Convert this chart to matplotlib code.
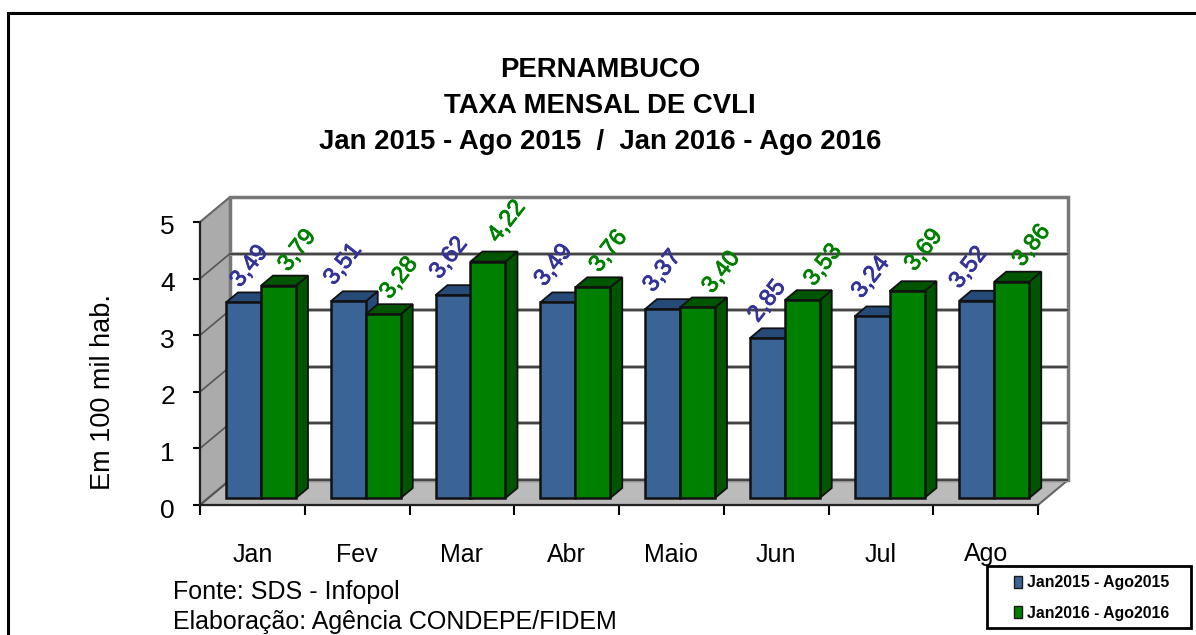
import matplotlib
matplotlib.use('Agg')
import matplotlib.pyplot as plt
from matplotlib.patches import Rectangle, Polygon, Patch
from matplotlib.transforms import Affine2D
import matplotlib.patheffects as pe

plt.rcParams['font.family'] = ['Liberation Sans', 'DejaVu Sans']

# Dados
meses = ['Jan', 'Fev', 'Mar', 'Abr', 'Maio', 'Jun', 'Jul', 'Ago']
taxa_2015 = [3.49, 3.51, 3.62, 3.49, 3.37, 2.85, 3.24, 3.52]
taxa_2016 = [3.79, 3.28, 4.22, 3.76, 3.40, 3.53, 3.69, 3.86]
serie_2015 = 'Jan2015 - Ago2015'
serie_2016 = 'Jan2016 - Ago2016'
yticks = [0, 1, 2, 3, 4, 5]
titulo = 'PERNAMBUCO\nTAXA MENSAL DE CVLI\nJan 2015 - Ago 2015  /  Jan 2016 - Ago 2016'
fonte = 'Fonte: SDS - Infopol'
elaboracao = 'Elaboração: Agência CONDEPE/FIDEM'

W, H = 1196, 635
AZUL, AZUL_ESC = '#3A6496', '#264B78'
VERDE, VERDE_ESC = '#008000', '#005500'
COR_AZUL_TXT = '#333399'

# deslocamento dos rotulos em relacao ao topo da barra, em pixels
ajuste_azul_x = [6, -5, -4, -4, 0, 0, -1, -8]
ajuste_azul_y = [36, 37, 37, 37, 38, 37, 39, 33]
ajuste_verde_x = [19, 16, 19, 16, 24, 21, 17, 20]
ajuste_verde_y = [35, 36, 40, 36, 35, 35, 41, 36]

fig = plt.figure(figsize=(W / 100, H / 100), dpi=100, facecolor='white')


# converte pixels da imagem para fracao da figura
def fx(px):
    return px / W


def fy(py):
    return 1 - py / H


ax = fig.add_axes([fx(200), fy(505), fx(838), (505 - 222) / H])
ax.set_xlim(0, len(meses))
ax.set_ylim(0, 5)
ax.patch.set_visible(False)

# escala em pixels de cada eixo
sx = 838 / len(meses)
sy = 283 / 5
dx, dy = 30 / sx, 25 / sy        # profundidade do grafico
bar_w = 35 / sx
bar_dx, bar_dy = 12 / sx, 10 / sy
base = 7 / sy
inicio = 26 / sx
n = len(meses)
top = yticks[-1]

# paredes e piso
ax.add_patch(Polygon([(0, 0), (dx, dy), (dx, top + dy), (0, top)], closed=True,
                     facecolor='#ABABAB', edgecolor='#666666', lw=1.5, clip_on=False, zorder=1))
ax.add_patch(Polygon([(0, 0), (n, 0), (n + dx, dy), (dx, dy)], closed=True,
                     facecolor='#BBBBBB', edgecolor='#666666', lw=1.5, clip_on=False, zorder=1))
ax.add_patch(Rectangle((dx, dy), n, top, facecolor='white', edgecolor='#777777',
                       lw=2.5, clip_on=False, zorder=1))

# linhas de grade na parede de fundo e na lateral
for v in yticks[:-1]:
    ax.plot([dx, n + dx], [v + dy, v + dy], color='#999999', lw=2.6, clip_on=False, zorder=1.1,
            solid_capstyle='butt')
    ax.plot([dx, n + dx], [v + dy, v + dy], color='#333333', lw=1.2, clip_on=False, zorder=1.2,
            solid_capstyle='butt')
    ax.plot([0, dx], [v, v + dy], color='#555555', lw=1.2, clip_on=False, zorder=1.2)


def barra(x, v, cor, cor_esc, z):
    v = v * 0.99
    h = base + v
    # lateral e topo
    ax.add_patch(Polygon([(x + bar_w, base), (x + bar_w + bar_dx, base + bar_dy),
                          (x + bar_w + bar_dx, h + bar_dy), (x + bar_w, h)], closed=True,
                         facecolor=cor_esc, edgecolor='#111111', lw=1.3, clip_on=False, zorder=z))
    ax.add_patch(Polygon([(x, h), (x + bar_dx, h + bar_dy), (x + bar_w + bar_dx, h + bar_dy),
                          (x + bar_w, h)], closed=True,
                         facecolor=cor_esc, edgecolor='#111111', lw=1.3, clip_on=False, zorder=z))
    ax.bar(x, v, width=bar_w, bottom=base, align='edge', color=cor, edgecolor='#111111',
           lw=1.8, clip_on=False, zorder=z)
    return h


for i in range(n):
    x1 = i + inicio
    x2 = x1 + bar_w
    h1 = barra(x1, taxa_2015[i], AZUL, AZUL_ESC, 2 + i)
    h2 = barra(x2, taxa_2016[i], VERDE, VERDE_ESC, 2.5 + i)
    # rotulos de dados inclinados
    t1 = ax.annotate(f'{taxa_2015[i]:.2f}'.replace('.', ','), (x1 + bar_w / 2, h1),
                     xytext=(ajuste_azul_x[i] * 0.72, ajuste_azul_y[i] * 0.72),
                     textcoords='offset points',
                     rotation=52, ha='center', va='center', rotation_mode='anchor',
                     fontsize=17, color=COR_AZUL_TXT, annotation_clip=False, zorder=30)
    t2 = ax.annotate(f'{taxa_2016[i]:.2f}'.replace('.', ','), (x2 + bar_w / 2, h2),
                     xytext=(ajuste_verde_x[i] * 0.72, ajuste_verde_y[i] * 0.72),
                     textcoords='offset points',
                     rotation=52, ha='center', va='center', rotation_mode='anchor',
                     fontsize=17, color=VERDE, annotation_clip=False, zorder=30)
    # o original tem tracos mais pesados
    t1.set_path_effects([pe.withStroke(linewidth=0.6, foreground=COR_AZUL_TXT)])
    t2.set_path_effects([pe.withStroke(linewidth=0.6, foreground=VERDE)])

# eixos
for s in ['top', 'right']:
    ax.spines[s].set_visible(False)
for s in ['left', 'bottom']:
    ax.spines[s].set_linewidth(1.6)
    ax.spines[s].set_color('#222222')
    ax.spines[s].set_zorder(40)
ax.set_yticks(yticks)
ax.tick_params(axis='y', labelsize=19, length=5, width=1.5, pad=13)
desce = Affine2D().translate(0, -3)
for lab in ax.get_yticklabels():
    lab.set_transform(lab.get_transform() + desce)
ax.set_xticks(range(n + 1))
ax.set_xticklabels([])
ax.tick_params(axis='x', which='major', length=7, width=1.5)
ax.set_xticks([i + 0.5 for i in range(n)], minor=True)
ax.set_xticklabels(meses, minor=True)
ax.tick_params(axis='x', which='minor', length=0, labelsize=18, pad=27)
ax.set_ylabel('Em 100 mil hab.', fontsize=19.5, y=0.4, labelpad=32)

# textos
fig.text(fx(600), fy(106), titulo, ha='center', va='center', fontsize=19.8, fontweight='bold',
         linespacing=1.5)
fig.text(fx(173), fy(592), fonte, ha='left', va='center', fontsize=18)
fig.text(fx(173), fy(622), elaboracao, ha='left', va='center', fontsize=18)

# moldura externa: so topo e esquerda, o resto fica fora da imagem
fig.add_artist(Rectangle((fx(8), fy(H + 20)), fx(W + 20 - 8), (H + 20 - 13) / H, fill=False,
                         edgecolor='black', lw=2.2, transform=fig.transFigure, zorder=1))

# legenda
fig.add_artist(Rectangle((fx(987), fy(628)), fx(204), 62 / H, facecolor='white',
                         edgecolor='black', lw=2, transform=fig.transFigure, zorder=2))
handles = [Patch(facecolor=AZUL, edgecolor='#1A1A1A', label=serie_2015),
           Patch(facecolor=VERDE, edgecolor='#1A1A1A', label=serie_2016)]
fig.legend(handles=handles, loc='center left', bbox_to_anchor=(fx(1014), fy(598)), frameon=False,
           prop={'size': 11.4, 'weight': 'bold'}, handlelength=0.5, handleheight=0.8,
           handletextpad=0.3, labelspacing=0.95, borderpad=0, borderaxespad=0)

fig.savefig('out.png', dpi=100)
